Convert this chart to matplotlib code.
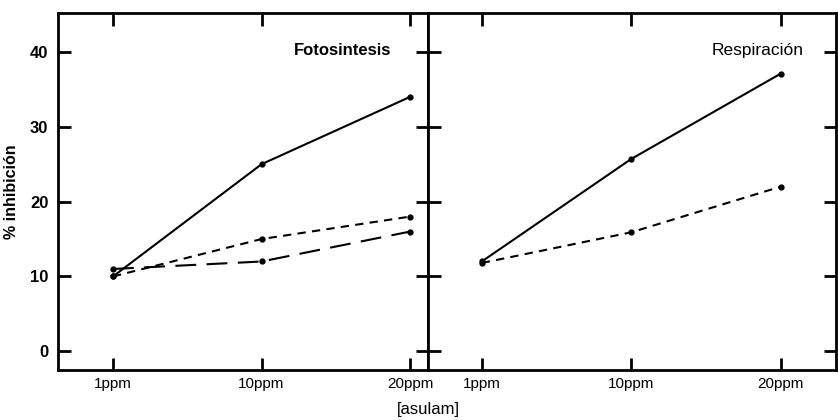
import matplotlib.pyplot as plt

plt.rcParams['font.family'] = ['Liberation Sans', 'DejaVu Sans']

doses = ["1ppm", "10ppm", "20ppm"]
yticks = [0, 10, 20, 30, 40]

# Fotosintesis
foto_solid = [10, 25, 34]
foto_short = [10, 15, 18]
foto_long = [11, 12, 16]

# Respiración
resp_solid = [12, 25.7, 37.1]
resp_short = [11.8, 15.9, 22]

fig = plt.figure(figsize=(8.38, 4.2), dpi=100)
ax1 = fig.add_axes([0.0692, 0.119, 0.4415, 0.85])
ax2 = fig.add_axes([0.5107, 0.119, 0.4869, 0.85])

x = range(len(doses))
kw = dict(color='black', lw=1.5, marker='o', ms=3.5)
ax1.plot(x, foto_solid, **kw)
ax1.plot(x, foto_short, dashes=(4, 3), **kw)
ax1.plot(x, foto_long, dashes=(10, 5), **kw)
ax2.plot(x, resp_solid, **kw)
ax2.plot(x, resp_short, dashes=(4, 3), **kw)

ax1.set_xlim(-0.37, 2.12)
ax2.set_xlim(-0.36, 2.37)
for ax in (ax1, ax2):
    ax.set_ylim(-2.5, 45.2)
    ax.set_yticks(yticks)
    ax.set_xticks(list(x))
    ax.set_xticklabels(doses, fontsize=11)
    ax.tick_params(direction='in', length=9, width=2, top=True, right=True)
    ax.tick_params(axis='x', pad=5)
    ax.tick_params(axis='y', pad=7)
    for s in ax.spines.values():
        s.set_linewidth(2)

ax1.set_yticklabels([str(v) for v in yticks], fontsize=12, fontweight='bold')
ax2.set_yticklabels([])
ax1.set_ylabel("% inhibición", fontsize=11.5, fontweight='bold', labelpad=8)

ax1.text(0.90, 0.895, "Fotosintesis", transform=ax1.transAxes, ha='right',
         va='center', fontsize=12, fontweight='bold')
ax2.text(0.92, 0.895, "Respiración", transform=ax2.transAxes, ha='right',
         va='center', fontsize=12.5)
fig.text(0.511, 0.025, "[asulam]", ha='center', va='center', fontsize=12)

fig.savefig("out.png", dpi=100)
